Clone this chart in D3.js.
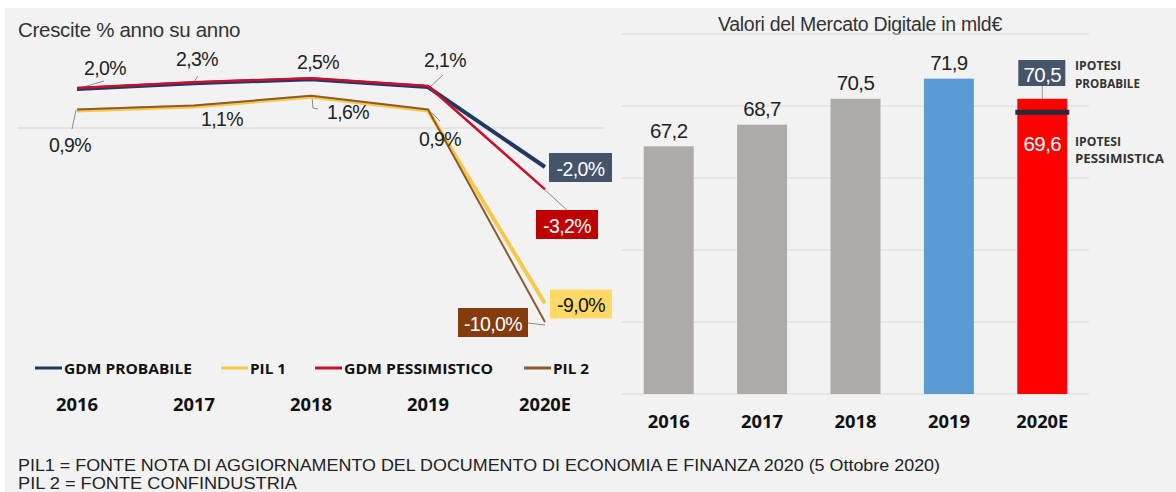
<!DOCTYPE html>
<html>
<head>
<meta charset="utf-8">
<script src="https://d3js.org/d3.v7.min.js"></script>
<style>
  body { margin: 0; background: #fff; }
  text { font-family: "Liberation Sans", Arial, sans-serif; }
  .bold { font-family: "Open Sans", Lato, sans-serif; font-weight: 700; }
</style>
</head>
<body>
<svg id="chart" width="1176" height="492"></svg>
<script>
  // ---- data ----
  const years = ["2016", "2017", "2018", "2019", "2020E"];
  const gdmProbabile = [2.0, 2.3, 2.5, 2.1, -2.0];
  const gdmPessimistico = [2.0, 2.3, 2.5, 2.1, -3.2];
  const pil1 = [0.9, 1.1, 1.6, 0.9, -9.0];
  const pil2 = [0.9, 1.1, 1.6, 0.9, -10.0];
  const mercato = [67.2, 68.7, 70.5, 71.9, 70.5];
  const mercatoPessimistico = 69.6;
  const legendLabels = ["GDM PROBABILE", "PIL 1", "GDM PESSIMISTICO", "PIL 2"];
  const notes = [
    "PIL1 = FONTE NOTA DI AGGIORNAMENTO DEL DOCUMENTO DI ECONOMIA E FINANZA 2020 (5 Ottobre 2020)",
    "PIL 2 = FONTE CONFINDUSTRIA"
  ];

  const fmt = v => d3.format(".1f")(v).replace(".", ",").replace("\u2212", "-");

  const svg = d3.select("#chart");
  svg.append("rect").attr("x", 5).attr("y", 8).attr("width", 1171).attr("height", 484).attr("fill", "#f2f2f2");

  // ---------- left: crescite ----------
  const x = d3.scalePoint().domain(years).range([77, 545]);
  const y = d3.scaleLinear().domain([-10, 2.5]).range([323, 79.25]);

  svg.append("text").attr("x", 18).attr("y", 37).attr("font-size", 20.5).attr("fill", "#333")
    .attr("letter-spacing", -0.3).text("Crescite % anno su anno");

  svg.append("line").attr("x1", 18).attr("x2", 605).attr("y1", y(0)).attr("y2", y(0))
    .attr("stroke", "#d6d6d6").attr("stroke-width", 1);

  const line = d3.line().x((d, i) => x(years[i])).y(d => y(d));
  const colors = { prob: "#203864", pess: "#c8102e", pil1: "#f7c948", pil2: "#8c5a2e" };

  // leader lines (drawn under the series)
  const leaders = [
    [[77, 89], [104, 81]], [[193, 83], [198, 76]], [[430, 87], [443, 75]],
    [[76, 110], [72, 129]], [[312, 97], [313, 108], [318, 109]], [[428, 109], [440, 121]],
    [[545, 190], [567, 210]], [[528, 323], [545, 325]]
  ];
  leaders.forEach(pts => svg.append("path").attr("d", d3.line()(pts))
    .attr("fill", "none").attr("stroke", "#8a8a8a").attr("stroke-width", 1));

  svg.append("path").datum(pil1).attr("d", line).attr("fill", "none")
    .attr("stroke", colors.pil1).attr("stroke-width", 4).attr("stroke-linejoin", "round");
  svg.append("path").datum(pil2).attr("d", line).attr("fill", "none").attr("transform", "translate(0,-1)")
    .attr("stroke", colors.pil2).attr("stroke-width", 2).attr("stroke-linejoin", "round");
  svg.append("path").datum(gdmProbabile).attr("d", line).attr("fill", "none")
    .attr("stroke", colors.prob).attr("stroke-width", 4).attr("stroke-linejoin", "round");
  svg.append("path").datum(gdmPessimistico).attr("d", line).attr("fill", "none").attr("transform", "translate(0,-1)")
    .attr("stroke", colors.pess).attr("stroke-width", 2.5).attr("stroke-linejoin", "round");

  // point labels for historical years: [dx, dy] offsets from the point
  const topOffsets = [[28, -21], [3, -24], [7, -17], [17, -27]];
  const botOffsets = [[-7, 35], [28, 12], [37, 15], [12, 29]];
  years.slice(0, 4).forEach((yr, i) => {
    svg.append("text").attr("x", x(yr) + topOffsets[i][0]).attr("y", y(gdmProbabile[i]) + topOffsets[i][1])
      .attr("text-anchor", "middle").attr("dominant-baseline", "central")
      .attr("font-size", 19.5).attr("fill", "#222").attr("letter-spacing", -0.6).text(fmt(gdmProbabile[i]) + "%");
    svg.append("text").attr("x", x(yr) + botOffsets[i][0]).attr("y", y(pil1[i]) + botOffsets[i][1])
      .attr("text-anchor", "middle").attr("dominant-baseline", "central")
      .attr("font-size", 19.5).attr("fill", "#222").attr("letter-spacing", -0.6).text(fmt(pil1[i]) + "%");
  });

  // end-of-series boxes
  const last = years[4];
  const endBoxes = [
    { v: gdmProbabile[4], bg: "#44546a", fg: "#fff", x0: 549, w: 63, cy: 167.5 },
    { v: gdmPessimistico[4], bg: "#c00000", fg: "#fff", x0: 536, w: 62, cy: 224.5 },
    { v: pil1[4], bg: "#ffd966", fg: "#111", x0: 550, w: 62, cy: 304 },
    { v: pil2[4], bg: "#843c0c", fg: "#fff", x0: 458, w: 70, cy: 322.5 }
  ];
  endBoxes.forEach(b => {
    svg.append("rect").attr("x", b.x0).attr("y", b.cy - 14.5).attr("width", b.w).attr("height", 29).attr("fill", b.bg);
    svg.append("text").attr("x", b.x0 + b.w / 2).attr("y", b.cy + 1).attr("text-anchor", "middle")
      .attr("dominant-baseline", "central").attr("font-size", 19.5).attr("letter-spacing", -0.6)
      .attr("fill", b.fg).text(fmt(b.v) + "%");
  });

  // legend
  const legendColors = [colors.prob, colors.pil1, colors.pess, colors.pil2];
  const legendX = [35, 221, 315, 524];
  const legendW = [128, 36, 149, 36];
  legendLabels.forEach((lab, i) => {
    svg.append("line").attr("x1", legendX[i]).attr("x2", legendX[i] + 27).attr("y1", 368).attr("y2", 368)
      .attr("stroke", legendColors[i]).attr("stroke-width", 3);
    svg.append("text").attr("class", "bold").attr("x", legendX[i] + 29).attr("y", 373.5)
      .attr("font-size", 15).attr("fill", "#111")
      .attr("textLength", legendW[i]).attr("lengthAdjust", "spacingAndGlyphs").text(lab);
  });

  svg.append("g").selectAll("text").data(years).join("text").attr("class", "bold")
    .attr("x", d => x(d)).attr("y", 411).attr("text-anchor", "middle")
    .attr("font-size", 17).attr("fill", "#111")
    .attr("textLength", d => d.length > 4 ? 52 : 42).attr("lengthAdjust", "spacingAndGlyphs").text(d => d);

  // ---------- right: mercato digitale ----------
  const xb = d3.scaleBand().domain(years).range([622, 1089]).paddingInner(0.465).paddingOuter(0.2325);
  const yb = d3.scaleLinear().domain([50, 75]).range([394, 34]);

  svg.append("text").attr("x", 860).attr("y", 31).attr("text-anchor", "middle")
    .attr("font-size", 19.5).attr("letter-spacing", -0.3).attr("fill", "#333").text("Valori del Mercato Digitale in mld€");

  svg.append("g").selectAll("line").data(yb.ticks(5)).join("line")
    .attr("x1", 622).attr("x2", 1089).attr("y1", d => yb(d)).attr("y2", d => yb(d))
    .attr("stroke", "#dcdcdc").attr("stroke-width", 1.2);

  const barColors = ["#aeaaaa", "#aeaaaa", "#aeaaaa", "#5b9bd5", "#ff0000"];
  svg.append("g").selectAll("rect").data(mercato).join("rect")
    .attr("x", (d, i) => xb(years[i])).attr("y", d => yb(d))
    .attr("width", xb.bandwidth()).attr("height", d => yb(50) - yb(d))
    .attr("fill", (d, i) => barColors[i]);

  svg.append("g").selectAll("text").data(mercato.slice(0, 4)).join("text")
    .attr("x", (d, i) => xb(years[i]) + xb.bandwidth() / 2).attr("y", d => yb(d) - 16)
    .attr("text-anchor", "middle").attr("dominant-baseline", "central")
    .attr("font-size", 20.5).attr("letter-spacing", -0.6).attr("fill", "#222").text(d => fmt(d));

  // 2020E annotations
  const cx = xb(last) + xb.bandwidth() / 2;
  svg.append("line").attr("x1", cx).attr("x2", cx).attr("y1", 85).attr("y2", yb(mercato[4]))
    .attr("stroke", "#999").attr("stroke-width", 1);
  svg.append("rect").attr("x", cx - 24).attr("y", 60).attr("width", 47).attr("height", 26).attr("fill", "#44546a");
  svg.append("text").attr("x", cx).attr("y", 74).attr("text-anchor", "middle").attr("dominant-baseline", "central")
    .attr("font-size", 20.5).attr("letter-spacing", -0.6).attr("fill", "#fff").text(fmt(mercato[4]));
  svg.append("rect").attr("x", xb(last) - 2).attr("y", yb(mercatoPessimistico) - 2)
    .attr("width", xb.bandwidth() + 4).attr("height", 5).attr("fill", "#2a2a3a");
  svg.append("text").attr("x", cx).attr("y", 143).attr("text-anchor", "middle").attr("dominant-baseline", "central")
    .attr("font-size", 20.5).attr("letter-spacing", -0.6).attr("fill", "#fff").text(fmt(mercatoPessimistico));

  [["IPOTESI", 65, 46], ["PROBABILE", 83, 65], ["IPOTESI", 141, 46], ["PESSIMISTICA", 158, 89]].forEach(([t, yy, w]) =>
    svg.append("text").attr("class", "bold").attr("x", 1075).attr("y", yy).attr("dominant-baseline", "central")
      .attr("font-size", 13).attr("fill", "#333")
      .attr("textLength", w).attr("lengthAdjust", "spacingAndGlyphs").text(t));

  svg.append("g").selectAll("text").data(years).join("text").attr("class", "bold")
    .attr("x", d => xb(d) + xb.bandwidth() / 2).attr("y", 428).attr("text-anchor", "middle")
    .attr("font-size", 17).attr("fill", "#111")
    .attr("textLength", d => d.length > 4 ? 52 : 42).attr("lengthAdjust", "spacingAndGlyphs").text(d => d);

  // footnotes
  const noteW = [922, 279];
  notes.forEach((n, i) => svg.append("text").attr("x", 18).attr("y", 471 + i * 18)
    .attr("font-size", 16).attr("fill", "#222")
    .attr("textLength", noteW[i]).attr("lengthAdjust", "spacingAndGlyphs").text(n));
</script>
</body>
</html>
